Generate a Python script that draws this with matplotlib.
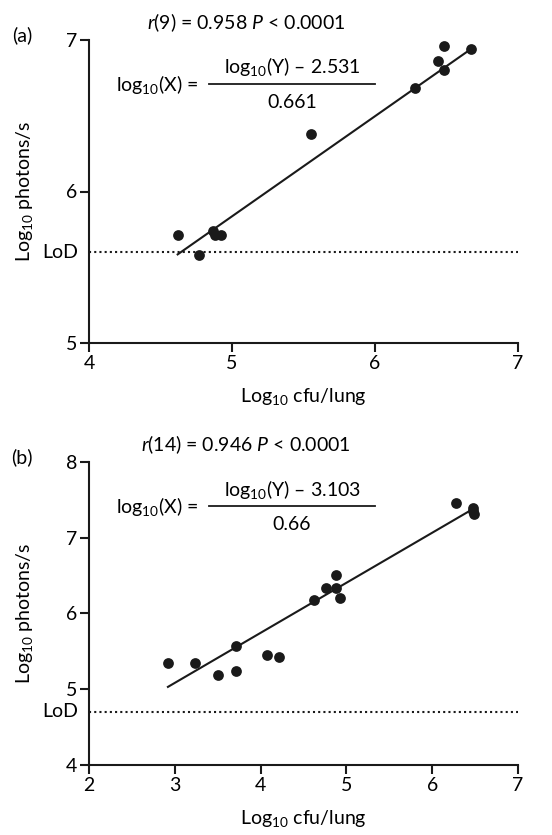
import matplotlib
matplotlib.use("Agg")
import matplotlib.pyplot as plt
from matplotlib.lines import Line2D

plt.rcParams["font.family"] = ["Lato", "DejaVu Sans"]
plt.rcParams["mathtext.fontset"] = "custom"
plt.rcParams["mathtext.rm"] = "Lato"
plt.rcParams["mathtext.it"] = "Lato:italic"
plt.rcParams["font.size"] = 14

# panel (a) data
a_cfu = [4.62, 4.77, 4.87, 4.88, 4.92, 5.55, 6.28, 6.44, 6.48, 6.48, 6.67]
a_photons = [5.71, 5.58, 5.74, 5.71, 5.71, 6.38, 6.68, 6.86, 6.96, 6.80, 6.94]
a_slope, a_icept = 0.661, 2.531
a_lod = 5.6

# panel (b) data
b_cfu = [2.92, 3.24, 3.50, 3.71, 3.71, 4.07, 4.21, 4.62, 4.76, 4.88, 4.88,
         4.93, 6.28, 6.47, 6.48, 6.49]
b_photons = [5.35, 5.35, 5.19, 5.57, 5.24, 5.45, 5.43, 6.17, 6.33, 6.50, 6.34,
             6.20, 7.45, 7.39, 7.35, 7.31]
b_slope, b_icept = 0.66, 3.103
b_lod = 4.7

W, H = 552, 835
FS = 14


def fx(px):
    return px / W


def fy(py):
    return 1 - py / H


def draw_panel(fig, rect, cfu, photons, slope, icept, lod, xlim, ylim,
               letter, rtext, numer, denom, top_py):
    ax = fig.add_axes(rect)
    ax.scatter(cfu, photons, s=60, color="#1a1a1a", zorder=3, linewidths=0)
    x0, x1 = min(cfu), max(cfu) - 0.03
    ax.plot([x0, x1], [slope * x0 + icept, slope * x1 + icept],
            color="#1a1a1a", lw=1.5, zorder=2)
    ax.plot(xlim, [lod, lod], color="#1a1a1a", lw=1.5, ls=(0, (1, 1.5)),
            clip_on=False)
    ax.set_xlim(xlim)
    ax.set_ylim(ylim)
    ax.set_xticks(range(xlim[0], xlim[1] + 1))
    ax.set_yticks(range(ylim[0], ylim[1] + 1))
    for s in ["top", "right"]:
        ax.spines[s].set_visible(False)
    for s in ["left", "bottom"]:
        ax.spines[s].set_linewidth(1.5)
        ax.spines[s].set_color("#1a1a1a")
    ax.tick_params(direction="out", length=6.5, width=1.5, labelsize=FS,
                   color="#1a1a1a", pad=2)
    ax.text(-0.025, lod, "LoD", transform=ax.get_yaxis_transform(),
            ha="right", va="center", fontsize=FS)
    ax.set_xlabel("Log$_{10}$ cfu/lung", fontsize=FS, labelpad=10)
    ax.set_ylabel("Log$_{10}$ photons/s", fontsize=FS, labelpad=22)

    fig.text(fx(22), fy(top_py - 5), letter, ha="center", va="center",
             fontsize=FS)
    fig.text(fx(246), fy(top_py - 17), rtext, ha="center", va="center",
             fontsize=FS)
    fig.text(fx(157), fy(top_py + 45), "log$_{10}$(X) =", ha="center",
             va="center", fontsize=FS)
    fig.text(fx(292), fy(top_py + 27), numer, ha="center", va="center",
             fontsize=FS)
    fig.text(fx(292), fy(top_py + 62), denom, ha="center", va="center",
             fontsize=FS)
    fig.add_artist(Line2D([fx(209), fx(375)], [fy(top_py + 44)] * 2,
                          color="#1a1a1a", lw=1.3))
    return ax


fig = plt.figure(figsize=(W / 100, H / 100), dpi=100)

draw_panel(fig, [fx(89), fy(343), fx(518) - fx(89), fy(40) - fy(343)],
           a_cfu, a_photons, a_slope, a_icept, a_lod, (4, 7), (5, 7),
           "(a)", "$\\it{r}$(9) = 0.958 $\\it{P}$ < 0.0001",
           "log$_{10}$(Y) – 2.531", "0.661", 40)

draw_panel(fig, [fx(89), fy(765), fx(518) - fx(89), fy(461.7) - fy(765)],
           b_cfu, b_photons, b_slope, b_icept, b_lod, (2, 7), (4, 8),
           "(b)", "$\\it{r}$(14) = 0.946 $\\it{P}$ < 0.0001",
           "log$_{10}$(Y) – 3.103", "0.66", 462)

fig.savefig("out.png", dpi=100)
